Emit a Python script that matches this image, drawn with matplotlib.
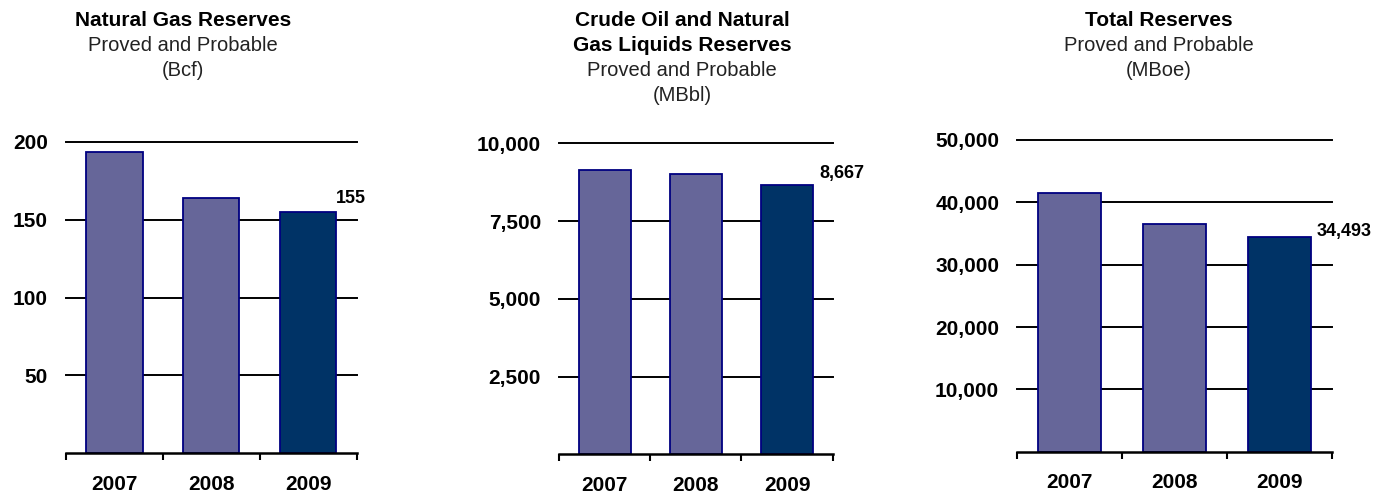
import matplotlib
matplotlib.use('Agg')
import matplotlib.pyplot as plt
from matplotlib.ticker import FuncFormatter, FixedLocator

plt.rcParams['font.family'] = ['Liberation Sans', 'DejaVu Sans']

# data
years = ['2007', '2008', '2009']

gas_bcf = [193.6, 164.1, 155]
gas_label = '155'

liquids_mbbl = [9151, 9022, 8667]
liquids_label = '8,667'

total_mboe = [41450, 36525, 34493]
total_label = '34,493'

gas_ticks = [50, 100, 150, 200]
liquids_ticks = [2500, 5000, 7500, 10000]
total_ticks = [10000, 20000, 30000, 40000, 50000]

gas_title = ['Natural Gas Reserves', 'Proved and Probable', '(Bcf)']
liquids_title = ['Crude Oil and Natural', 'Gas Liquids Reserves', 'Proved and Probable', '(MBbl)']
total_title = ['Total Reserves', 'Proved and Probable', '(MBoe)']

W, H = 1384, 495
light = '#666699'
dark = '#003366'
edge = '#000080'

fig = plt.figure(figsize=(W / 100, H / 100), dpi=100)

# panel layout in pixels: axes left, right, top (y max), bottom (baseline),
# title centre x, number of bold title lines, bar width, value label offset (px)
panels = [
    dict(vals=gas_bcf, ticks=gas_ticks, label=gas_label, title=gas_title, nbold=1,
         box=(66, 356.7, 141.7, 453.3), tx=183, bw=0.58, off=(0, 5)),
    dict(vals=liquids_mbbl, ticks=liquids_ticks, label=liquids_label, title=liquids_title, nbold=2,
         box=(559, 832.7, 143.3, 454.3), tx=682, bw=0.57, off=(6, 3)),
    dict(vals=total_mboe, ticks=total_ticks, label=total_label, title=total_title, nbold=1,
         box=(1017.3, 1331.7, 140, 451.7), tx=1159, bw=0.6, off=(6, -3)),
]

for p in panels:
    x0, x1, yt, yb = p['box']
    ax = fig.add_axes([x0 / W, 1 - yb / H, (x1 - x0) / W, (yb - yt) / H])
    xs = list(range(len(years)))
    colors = [light] * (len(years) - 1) + [dark]
    bars = ax.bar(xs, p['vals'], width=p['bw'], color=colors, edgecolor=edge,
                  linewidth=1.3, zorder=3)

    ax.set_xlim(-0.5, len(years) - 0.5)
    ax.set_ylim(0, p['ticks'][-1])

    ax.yaxis.set_major_locator(FixedLocator(p['ticks']))
    ax.yaxis.set_major_formatter(FuncFormatter(lambda v, pos: f'{v:,.0f}'))
    ax.tick_params(axis='y', length=0, pad=13, labelsize=15)
    for t in ax.get_yticklabels():
        t.set_fontweight('bold')
    ax.yaxis.grid(True, color='black', linewidth=1.4, zorder=1)
    for gl in ax.get_ygridlines():
        gl.set_clip_on(False)
    ax.set_axisbelow(True)

    ax.set_xticks(xs)
    ax.set_xticklabels(years, fontsize=15, fontweight='bold')
    ax.set_xticks([x - 0.5 for x in range(len(years) + 1)], minor=True)
    ax.tick_params(axis='x', which='major', length=0, pad=15.5)
    ax.tick_params(axis='x', which='minor', length=5, width=1.5, direction='out')

    for s in ['left', 'right', 'top']:
        ax.spines[s].set_visible(False)
    ax.spines['bottom'].set_linewidth(1.8)
    ax.spines['bottom'].set_zorder(4)

    last = bars[-1]
    ax.annotate(p['label'], xy=(last.get_x() + last.get_width(), last.get_height()),
                xytext=p['off'], textcoords='offset pixels', ha='left', va='bottom',
                fontsize=13, fontweight='bold', annotation_clip=False)

    # title block
    for i, line in enumerate(p['title']):
        bold = i < p['nbold']
        fig.text(p['tx'] / W, 1 - (26 + 25 * i) / H, line, ha='center', va='baseline',
                 fontsize=15 if bold else 14.5, fontweight='bold' if bold else 'normal',
                 color='black' if bold else '#222222')

fig.savefig('out.png', dpi=100)
